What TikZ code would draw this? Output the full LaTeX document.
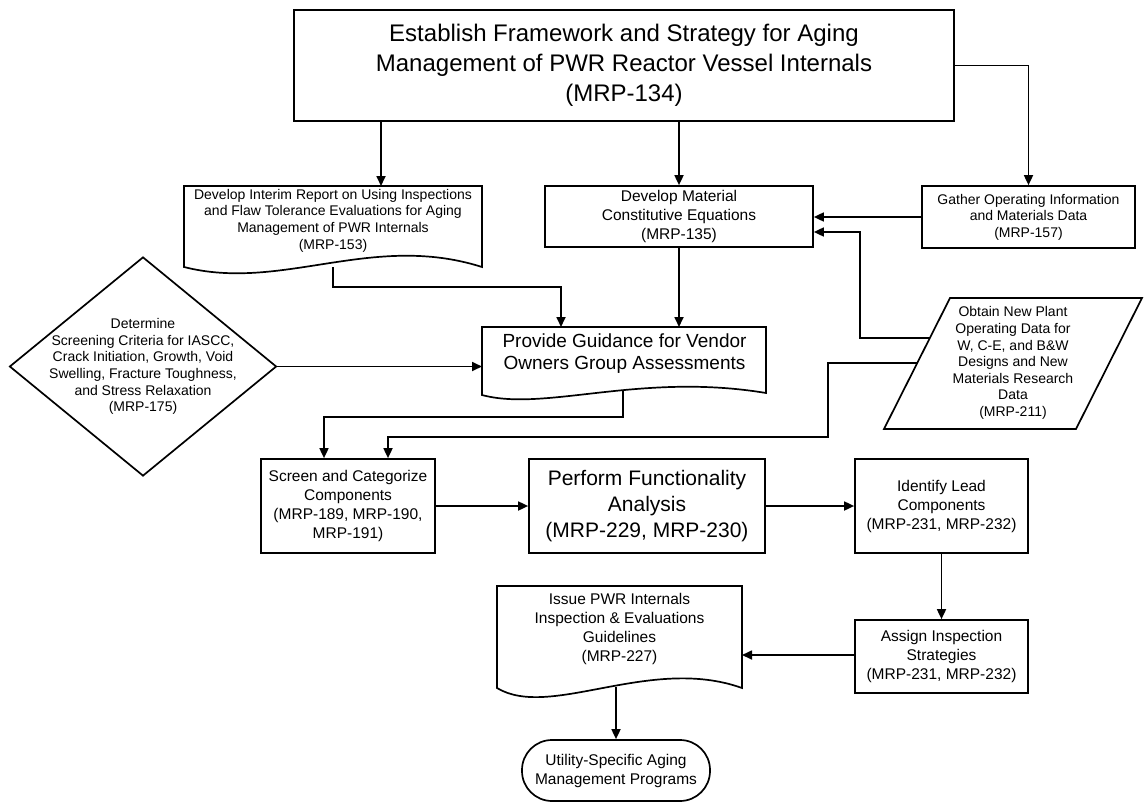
\documentclass[tikz,border=0pt]{standalone}
\usepackage{fontspec}
\setmainfont{Liberation Sans}
\usetikzlibrary{arrows.meta,shapes.geometric,calc}

\tikzset{
  line/.style={draw=black, line width=1.7pt},
  arr/.style={line, -{Triangle[length=10pt,width=9pt]}},
  box/.style={draw=black, line width=1.7pt, align=center, inner sep=0pt},
  txt/.style={align=center, inner sep=0pt},
  small/.style={font=\fontsize{14}{16.6}\selectfont},
  mid/.style={font=\fontsize{15.5}{18.8}\selectfont},
  big/.style={font=\fontsize{19}{22}\selectfont},
}

\begin{document}
\begin{tikzpicture}[x=1pt,y=-1pt]
\useasboundingbox (0,0) rectangle (1144,803);

% ---------- top level ----------
\node[box, line width=2.6pt, minimum width=660pt, minimum height=111pt,
      font=\fontsize{24}{30}\selectfont] (top) at (624,65.5)
  {Establish Framework and Strategy for Aging\\
   Management of PWR Reactor Vessel Internals\\
   (MRP-134)};

% ---------- second row ----------
% interim report (document shape)
\draw[line] (184,186) -- (482,186) -- (482,267)
  .. controls (372,232) and (282,292) .. (184,267) -- cycle;
\node[txt, small] (d153) at (333,220.5)
  {Develop Interim Report on Using Inspections\\
   and Flaw Tolerance Evaluations for Aging\\
   Management of PWR Internals\\
   (MRP-153)};
\coordinate (d153in) at (381,186);
\coordinate (d153out) at (333,267);

\node[box, mid, minimum width=268pt, minimum height=61pt] (d135) at (679,216.5)
  {Develop Material\\Constitutive Equations\\(MRP-135)};

\node[box, small, minimum width=213pt, minimum height=62pt] (gather) at (1028.5,217)
  {Gather Operating Information\\and Materials Data\\(MRP-157)};

% ---------- third row ----------
% screening criteria decision
\node[draw=black, line width=1.7pt, diamond, inner sep=0pt,
      minimum width=267pt, minimum height=219pt] (crit) at (143,366.5) {};
\node[txt, small] (crittext) at (143,366.5)
  {Determine\\
   Screening Criteria for IASCC,\\
   Crack Initiation, Growth, Void\\
   Swelling, Fracture Toughness,\\
   and Stress Relaxation\\
   (MRP-175)};

% guidance (document shape)
\draw[line] (482,327) -- (766,327) -- (766,393)
  .. controls (640,372) and (545,412) .. (482,395) -- cycle;
\node[txt, big] (provide) at (624.5,354)
  {Provide Guidance for Vendor\\Owners Group Assessments};
\coordinate (provin) at (482,366.5);
\coordinate (provtop) at (561,327);
\coordinate (provout) at (623,391);

% new plant data (parallelogram)
\draw[line] (950,298) -- (1142,298) -- (1076,429) -- (884,429) -- cycle;
\node[txt, small] (obtain) at (1013,363)
  {Obtain New Plant\\
   Operating Data for\\
   W, C-E, and B\&W\\
   Designs and New\\
   Materials Research\\
   Data\\
   (MRP-211)};
\coordinate (obtainA) at (930,338);
\coordinate (obtainB) at (917,363);

% ---------- fourth row ----------
\node[box, font=\fontsize{15.5}{19}\selectfont,
      minimum width=174pt, minimum height=94pt] (screen) at (348,506)
  {Screen and Categorize\\Components\\(MRP-189, MRP-190,\\MRP-191)};

\node[box, font=\fontsize{21}{26}\selectfont,
      minimum width=236pt, minimum height=94pt] (func) at (647,506)
  {Perform Functionality\\Analysis\\(MRP-229, MRP-230)};

\node[box, font=\fontsize{15.5}{19}\selectfont,
      minimum width=173pt, minimum height=94pt] (lead) at (941.5,506)
  {Identify Lead\\Components\\(MRP-231, MRP-232)};

% ---------- fifth row ----------
\node[box, font=\fontsize{15.5}{19}\selectfont,
      minimum width=173pt, minimum height=73pt] (assign) at (941.5,656.5)
  {Assign Inspection\\Strategies\\(MRP-231, MRP-232)};

% guidelines (document shape)
\draw[line] (497,586) -- (742,586) -- (742,688)
  .. controls (650,655) and (550,720) .. (497,688) -- cycle;
\node[txt, font=\fontsize{15.5}{18.7}\selectfont] (guide) at (619.5,629)
  {Issue PWR Internals\\Inspection \& Evaluations\\Guidelines\\(MRP-227)};
\coordinate (guidein) at (742,655);
\coordinate (guideout) at (616,687);

% terminal
\node[draw=black, line width=1.7pt, rounded corners=30pt, align=center, inner sep=0pt,
      minimum width=188pt, minimum height=61pt, font=\fontsize{15.5}{19}\selectfont]
  (util) at (616,770.5) {Utility-Specific Aging\\Management Programs};

% ---------- connectors ----------
\draw[arr] (top.south -| d153in) -- (d153in);
\draw[arr] (top.south -| d135.north) -- (d135.north);
\draw[arr] (top.east) -| (gather.north);

\draw[arr] (gather.west) -- (gather.west -| d135.east);
\draw[arr] (obtainA) -- ++(-70,0) |- ([yshift=-15.5pt]d135.east);

\draw[arr] (d153out) -- ++(0,20) -| (provtop);
\draw[arr] (d135.south) -- (d135.south |- provtop);
\draw[arr] (crit.east) -- (provin);

\draw[arr] (provout) -- (provout |- 0,417) -| ([xshift=-24pt]screen.north);
\draw[arr] (obtainB) -- ++(-89,0) -- ++(0,74) -| ([xshift=40pt]screen.north);

\draw[arr] (screen.east) -- (func.west);
\draw[arr] (func.east) -- (lead.west);
\draw[arr] (lead.south) -- (assign.north);
\draw[arr] ([yshift=1.5pt]assign.west) -- (guidein);
\draw[arr] (guideout) -- (util.north);

\end{tikzpicture}
\end{document}
